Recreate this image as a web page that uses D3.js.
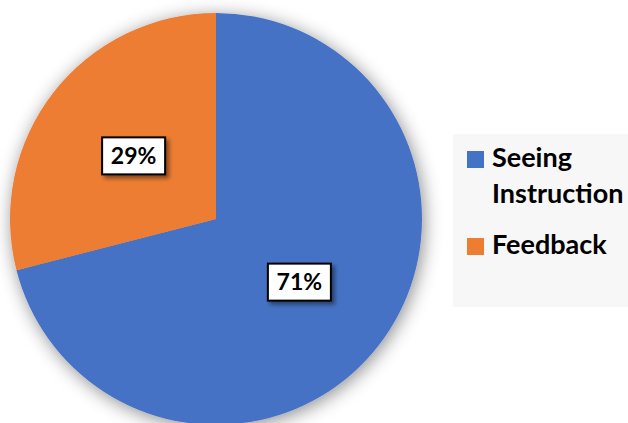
<!DOCTYPE html>
<html><head><meta charset="utf-8">
<script src="https://cdn.jsdelivr.net/npm/d3@7/dist/d3.min.js"></script>
<style>body{margin:0;background:#fff}svg{display:block}</style>
</head><body>
<script>
const categories = ["Seeing Instruction", "Feedback"];
const values = [71, 29];
const colors = ["#4472C4", "#ED7D31"];
const legendLines = [["Seeing", "Instruction"], ["Feedback"]];

const W = 628, H = 423;
const svg = d3.select("body").append("svg").attr("width", W).attr("height", H);
const defs = svg.append("defs");
const f = defs.append("filter").attr("id", "pieShadow").attr("x", "-20%").attr("y", "-20%").attr("width", "140%").attr("height", "140%");
f.append("feDropShadow").attr("dx", 2).attr("dy", 3).attr("stdDeviation", 9).attr("flood-color", "#000").attr("flood-opacity", 0.45);
const f2 = defs.append("filter").attr("id", "boxShadow").attr("x", "-30%").attr("y", "-30%").attr("width", "160%").attr("height", "160%");
f2.append("feDropShadow").attr("dx", 3).attr("dy", 3).attr("stdDeviation", 2).attr("flood-color", "#000").attr("flood-opacity", 0.45);

// legend background
svg.append("rect").attr("x", 453).attr("y", 134).attr("width", 180).attr("height", 173).attr("fill", "#f7f7f7");

const cx = 216, cy = 219, r = 206;
const pie = d3.pie().sort(null).value(d => d)(values);
const arc = d3.arc().innerRadius(0).outerRadius(r);
const g = svg.append("g").attr("transform", `translate(${cx},${cy})`);
const slices = g.append("g").attr("filter", "url(#pieShadow)");
slices.selectAll("path").data(pie).join("path").attr("d", arc).attr("fill", (d, i) => colors[i]);

const labelArc = d3.arc().innerRadius(r * 0.5).outerRadius(r * 0.5);
const total = d3.sum(values);
pie.forEach((d, i) => {
  const c = labelArc.centroid(d);
  const lg = g.append("g").attr("transform", `translate(${c[0] + (i === 0 ? 2 : -1)},${c[1]})`);
  const bw = 63, bh = 37;
  lg.append("rect").attr("x", -bw / 2).attr("y", -bh / 2).attr("width", bw).attr("height", bh)
    .attr("fill", "#fff").attr("stroke", "#000").attr("stroke-width", 2).attr("filter", "url(#boxShadow)");
  lg.append("text").attr("text-anchor", "middle").attr("dy", "0.36em")
    .attr("font-family", "Lato, 'Open Sans', sans-serif").attr("font-weight", "bold").attr("font-size", 23)
    .attr("fill", "#000").text(Math.round(d.data / total * 100) + "%");
});

// legend
const lgY = [151, 238];
categories.forEach((c, i) => {
  svg.append("rect").attr("x", 467).attr("y", lgY[i]).attr("width", 17).attr("height", 17).attr("fill", colors[i]);
  const t = svg.append("text").attr("x", 492).attr("y", lgY[i] + 16)
    .attr("font-family", "Lato, 'Open Sans', sans-serif").attr("font-weight", "bold").attr("font-size", 27).attr("fill", "#000");
  legendLines[i].forEach((l, j) => {
    t.append("tspan").attr("x", 492).attr("dy", j === 0 ? 0 : 36).text(l);
  });
});
</script>
</body></html>
